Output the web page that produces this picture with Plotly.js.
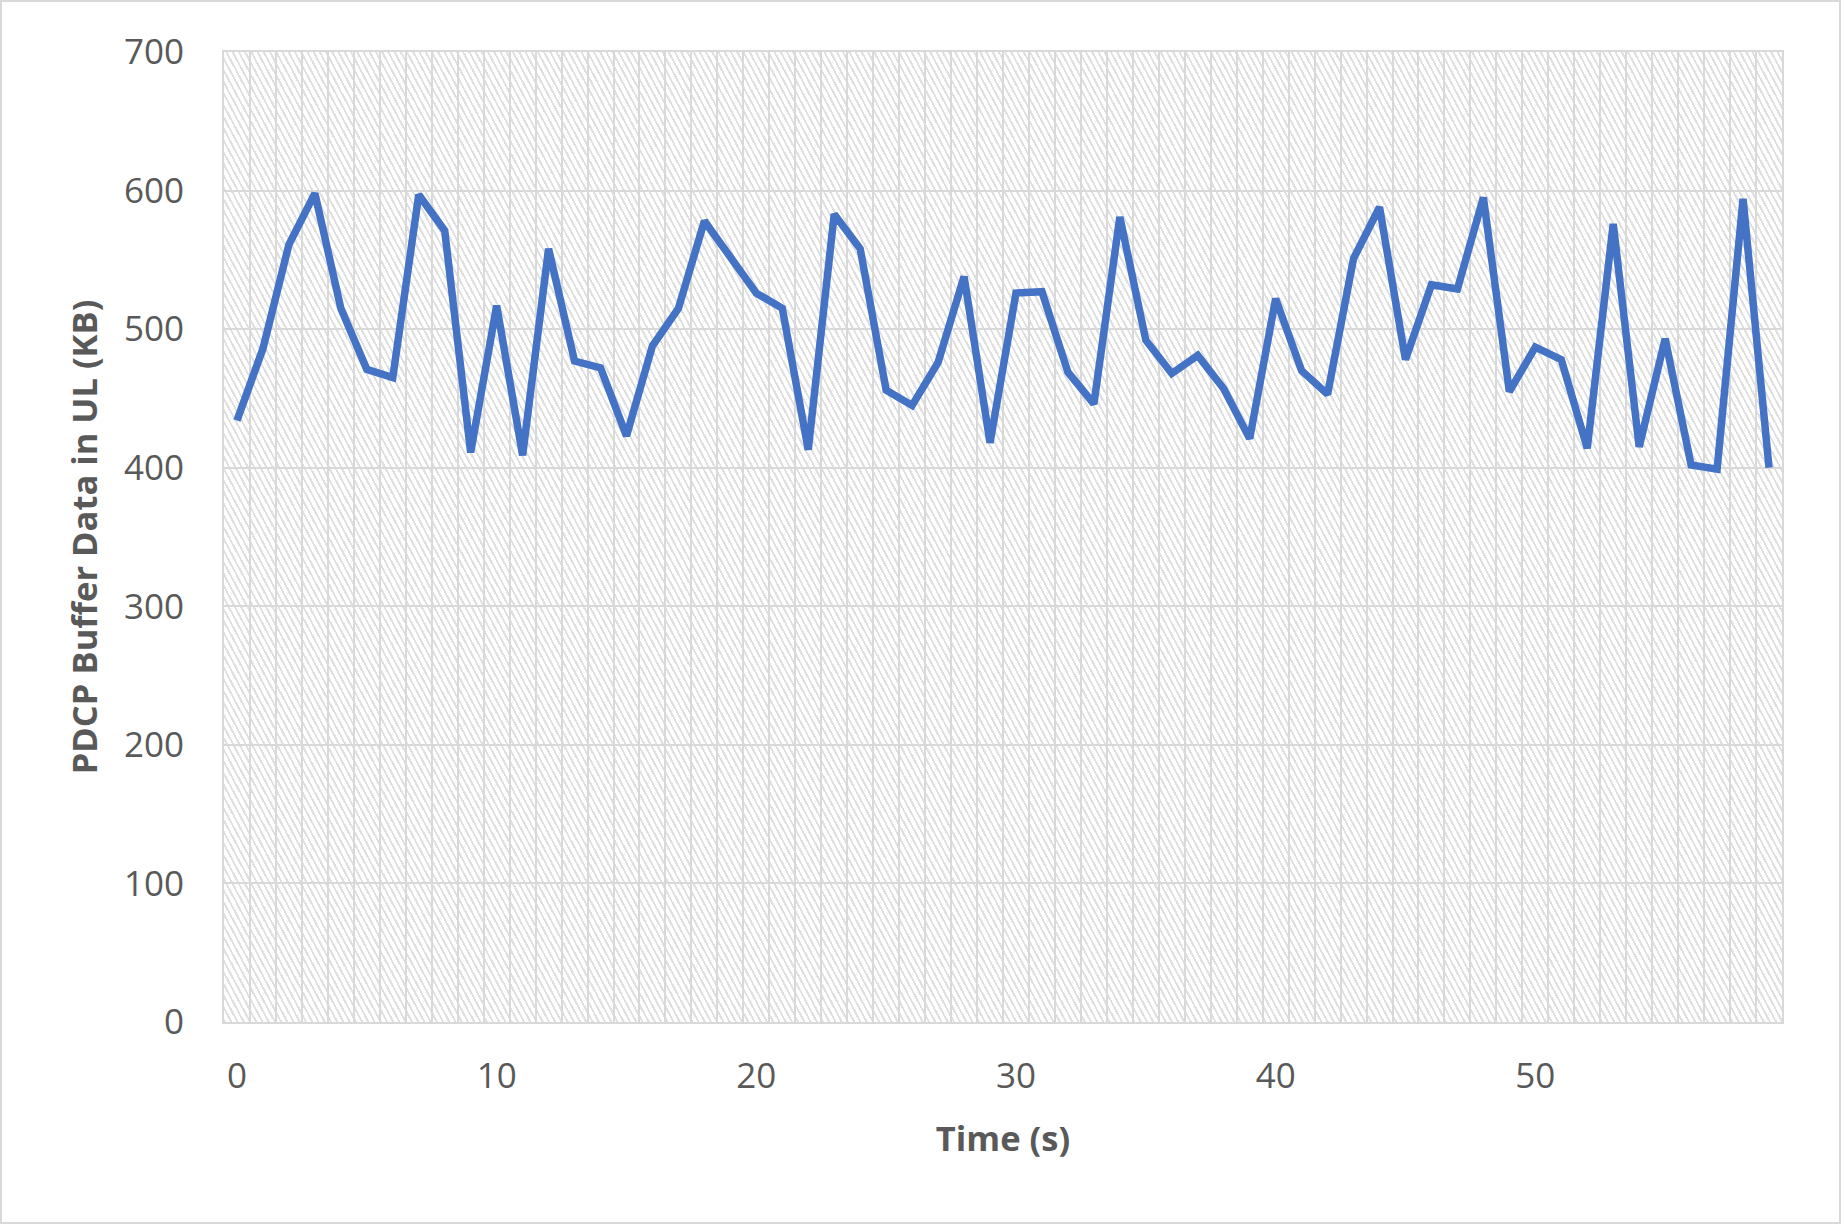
<!DOCTYPE html>
<html>
<head>
<meta charset="utf-8">
<script src="https://cdn.plot.ly/plotly-3.0.1.min.js"></script>
<style>
  html, body { margin: 0; padding: 0; background: #ffffff; }
  #wrap { position: relative; width: 1841px; height: 1224px; box-sizing: border-box; border: 2px solid #d9d9d9; overflow: hidden; }
  #pattern { position: absolute; background: repeating-linear-gradient(62deg, #e0e0e0 0px, #e0e0e0 2px, #ffffff 2px, #ffffff 5.5px); }
  #chart { position: absolute; left: -2px; top: -2px; width: 1841px; height: 1224px; }
</style>
</head>
<body>
<div id="wrap">
  <div id="pattern"></div>
  <div id="chart"></div>
</div>
<script>
// Time (s), one sample per second
const timeSeconds = [0,1,2,3,4,5,6,7,8,9,10,11,12,13,14,15,16,17,18,19,20,21,22,23,24,25,26,27,28,29,30,31,32,33,34,35,36,37,38,39,40,41,42,43,44,45,46,47,48,49,50,51,52,53,54,55,56,57,58,59];
// PDCP Buffer Data in UL (KB)
const pdcpBufferKB = [434,486,561,598,515,471,465,597,571,411,517,409,558,477,472,423,488,515,578,552,526,515,413,583,558,456,445,476,538,418,526,527,469,446,581,492,468,481,457,421,522,470,453,551,588,478,532,529,595,455,487,478,414,576,415,493,402,399,594,400];
const xTickValues = [0,10,20,30,40,50];
const yTickValues = [0,100,200,300,400,500,600,700];

const W = 1841, H = 1224;
const M = {l: 224, r: 59, t: 52, b: 202};

const trace = {
  x: timeSeconds,
  y: pdcpBufferKB,
  type: 'scatter',
  mode: 'lines',
  line: {color: '#4472C4', width: 7.5, shape: 'linear'},
  hoverinfo: 'x+y',
  showlegend: false
};

const fontFam = '"Open Sans", "Noto Sans", "DejaVu Sans", sans-serif';

const layout = {
  width: W, height: H,
  margin: M,
  paper_bgcolor: 'rgba(0,0,0,0)',
  plot_bgcolor: 'rgba(0,0,0,0)',
  showlegend: false,
  font: {family: fontFam, color: '#595959'},
  xaxis: {
    range: [-0.5, 59.5],
    tickmode: 'array',
    tickvals: xTickValues,
    ticktext: xTickValues.map(String),
    ticks: '',
    showgrid: false,
    zeroline: false,
    showline: true, mirror: true, linecolor: '#d9d9d9', linewidth: 2,
    tickfont: {size: 35, color: '#595959', family: fontFam},
    ticklabelstandoff: 22,
    minor: {tick0: 0.5, dtick: 1, showgrid: true, gridcolor: '#d9d9d9', gridwidth: 2, ticks: ''},
    title: {text: 'Time (s)', font: {size: 34.5, color: '#595959', family: fontFam, weight: 'bold'}, standoff: 30},
    automargin: false,
    fixedrange: true
  },
  yaxis: {
    range: [0, 700],
    tickmode: 'array',
    tickvals: yTickValues,
    ticktext: yTickValues.map(String),
    ticks: '',
    showgrid: true, gridcolor: '#d9d9d9', gridwidth: 2,
    zeroline: false,
    showline: true, mirror: true, linecolor: '#d9d9d9', linewidth: 2,
    tickfont: {size: 35, color: '#595959', family: fontFam},
    ticklabelstandoff: 31,
    title: {text: 'PDCP Buffer Data in UL (KB)', font: {size: 34.5, color: '#595959', family: fontFam, weight: 'bold'}, standoff: 16},
    automargin: false,
    fixedrange: true
  }
};

Plotly.newPlot('chart', [trace], layout, {displayModeBar: false, staticPlot: true}).then(function (gd) {
  const s = gd._fullLayout._size;
  const p = document.getElementById('pattern');
  p.style.left = (s.l - 2) + 'px';
  p.style.top = (s.t - 2) + 'px';
  p.style.width = s.w + 'px';
  p.style.height = s.h + 'px';
});
</script>
</body>
</html>
